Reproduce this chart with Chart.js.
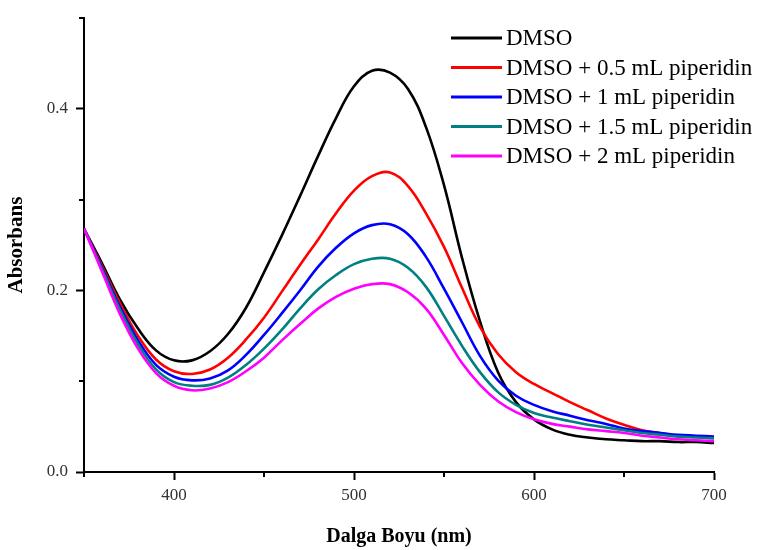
<!DOCTYPE html>
<html>
<head>
<meta charset="utf-8">
<script src="https://cdn.jsdelivr.net/npm/chart.js@4"></script>
<style>
  html, body { margin: 0; padding: 0; background: #ffffff; }
  #wrap { width: 764px; height: 550px; position: relative; }
</style>
</head>
<body>
<div id="wrap"><canvas id="c" width="764" height="550"></canvas></div>
<script>
const wavelengths = [350,360,370,380,390,400,410,420,430,440,450,460,470,480,490,500,510,520,530,540,550,560,570,580,590,600,610,620,630,640,650,660,670,680,690,700];

const dmso  = [0.268,0.230,0.190,0.158,0.134,0.123,0.123,0.133,0.152,0.181,0.220,0.261,0.304,0.348,0.390,0.425,0.442,0.440,0.422,0.380,0.316,0.236,0.166,0.110,0.077,0.058,0.047,0.041,0.038,0.036,0.035,0.034,0.034,0.033,0.033,0.032];
const pip05 = [0.268,0.227,0.186,0.150,0.124,0.111,0.108,0.113,0.126,0.146,0.170,0.199,0.228,0.256,0.285,0.310,0.326,0.330,0.315,0.285,0.248,0.203,0.160,0.130,0.110,0.097,0.087,0.077,0.068,0.059,0.052,0.046,0.043,0.040,0.039,0.038];
const pip1  = [0.268,0.225,0.182,0.145,0.118,0.105,0.101,0.103,0.112,0.129,0.151,0.175,0.200,0.226,0.247,0.263,0.272,0.273,0.262,0.237,0.202,0.165,0.128,0.101,0.084,0.074,0.067,0.062,0.057,0.053,0.048,0.045,0.043,0.041,0.040,0.039];
const pip15 = [0.268,0.223,0.179,0.141,0.113,0.099,0.095,0.096,0.104,0.118,0.136,0.157,0.180,0.201,0.217,0.229,0.235,0.235,0.225,0.204,0.172,0.139,0.110,0.088,0.074,0.065,0.060,0.056,0.052,0.049,0.046,0.043,0.041,0.039,0.038,0.037];
const pip2  = [0.268,0.221,0.174,0.136,0.109,0.095,0.090,0.092,0.099,0.111,0.126,0.145,0.163,0.180,0.193,0.202,0.207,0.207,0.198,0.180,0.151,0.120,0.096,0.078,0.066,0.058,0.053,0.050,0.047,0.045,0.043,0.040,0.038,0.036,0.035,0.034];

const seriesLabels = ['DMSO','DMSO + 0.5 mL piperidin','DMSO + 1 mL piperidin','DMSO + 1.5 mL piperidin','DMSO + 2 mL piperidin'];
const seriesColors = ['#000000','#ff0000','#0000ff','#008080','#ff00ff'];
const seriesValues = [dmso, pip05, pip1, pip15, pip2];

const xMajorLabels = [400,500,600,700];
const yMajorLabels = ['0.0','0.2','0.4'];
const xTitle = 'Dalga Boyu (nm)';
const yTitle = 'Absorbans';

const SERIF = '"Liberation Serif", "Times New Roman", serif';

const datasets = seriesValues.map((vals, i) => ({
  label: seriesLabels[i],
  data: wavelengths.map((w, k) => ({x: w, y: vals[k]})),
  borderColor: seriesColors[i],
  backgroundColor: seriesColors[i],
  borderWidth: 2.6,
  pointRadius: 0,
  fill: false,
  tension: 0.4,
  order: seriesValues.length - i
}));

const minorTicksPlugin = {
  id: 'minorTicks',
  afterDraw(chart) {
    const ctx = chart.ctx;
    const xs = chart.scales.x, ys = chart.scales.y;
    ctx.save();
    ctx.strokeStyle = '#000';
    ctx.lineWidth = 2;
    xs.ticks.forEach(t => {
      if (t.value % 100 !== 0) {
        const px = Math.round(xs.getPixelForValue(t.value));
        ctx.beginPath();
        ctx.moveTo(px, ys.bottom);
        ctx.lineTo(px, ys.bottom + 5);
        ctx.stroke();
      }
    });
    ys.ticks.forEach(t => {
      if (Math.round(t.value * 10) % 2 !== 0) {
        const py = Math.round(ys.getPixelForValue(t.value));
        ctx.beginPath();
        ctx.moveTo(xs.left, py);
        ctx.lineTo(xs.left - 5, py);
        ctx.stroke();
      }
    });
    ctx.restore();
  }
};

const legendPlugin = {
  id: 'innerLegend',
  afterDraw(chart) {
    const ctx = chart.ctx;
    ctx.save();
    ctx.font = '23px ' + SERIF;
    ctx.textBaseline = 'middle';
    ctx.textAlign = 'left';
    chart.data.datasets.forEach((ds, i) => {
      const y = 38 + i * 29.5;
      ctx.strokeStyle = ds.borderColor;
      ctx.lineWidth = 3;
      ctx.beginPath();
      ctx.moveTo(451, y);
      ctx.lineTo(502, y);
      ctx.stroke();
      ctx.fillStyle = '#000';
      ctx.fillText(ds.label, 506, y + 1);
    });
    ctx.restore();
  }
};

new Chart(document.getElementById('c'), {
  type: 'line',
  data: { datasets },
  options: {
    responsive: false,
    animation: false,
    devicePixelRatio: 1,
    layout: { padding: { top: 6, right: 50, bottom: 0, left: 0 } },
    plugins: { legend: { display: false }, tooltip: { enabled: false } },
    scales: {
      x: {
        type: 'linear',
        min: 350, max: 700,
        afterFit(scale) { scale.height = 78; },
        border: { display: true, color: '#000', width: 2 },
        grid: {
          display: true,
          drawOnChartArea: false,
          drawTicks: true,
          tickLength: 8,
          tickWidth: 2,
          tickColor: (c) => (c.tick && c.tick.value % 100 === 0) ? '#000' : 'rgba(0,0,0,0)'
        },
        ticks: {
          stepSize: 50,
          autoSkip: false,
          maxRotation: 0,
          padding: 5,
          color: '#333',
          font: { family: SERIF, size: 17 },
          callback: (v) => xMajorLabels.includes(v) ? String(v) : ''
        },
        title: {
          display: true,
          text: xTitle,
          color: '#000',
          font: { family: SERIF, size: 20, weight: 'bold' },
          padding: { top: 0, bottom: 1 }
        }
      },
      y: {
        type: 'linear',
        min: 0, max: 0.5,
        afterFit(scale) { scale.width = 84; },
        border: { display: true, color: '#000', width: 2 },
        grid: {
          display: true,
          drawOnChartArea: false,
          drawTicks: true,
          tickLength: 8,
          tickWidth: 2,
          tickColor: (c) => (c.tick && Math.round(c.tick.value * 10) % 2 === 0) ? '#000' : 'rgba(0,0,0,0)'
        },
        ticks: {
          stepSize: 0.1,
          autoSkip: false,
          padding: 8,
          color: '#333',
          font: { family: SERIF, size: 17 },
          callback: (v) => {
            const k = Math.round(v * 10);
            return (k % 2 === 0 && yMajorLabels[k / 2] !== undefined) ? yMajorLabels[k / 2] : '';
          }
        },
        title: {
          display: true,
          text: yTitle,
          color: '#000',
          font: { family: SERIF, size: 21, weight: 'bold' },
          padding: { top: 4, bottom: 0 }
        }
      }
    }
  },
  plugins: [minorTicksPlugin, legendPlugin]
});
</script>
</body>
</html>
